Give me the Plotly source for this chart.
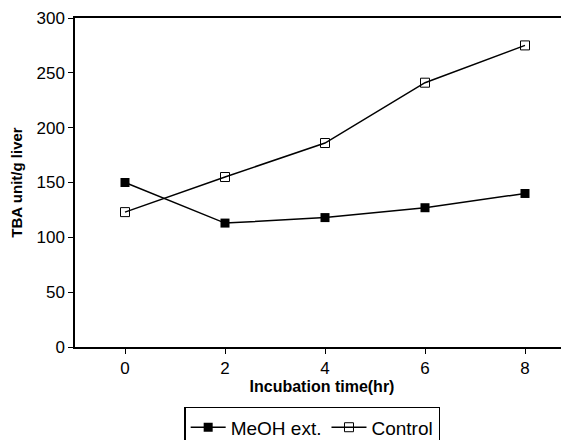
import plotly.graph_objects as go

hours = [0, 2, 4, 6, 8]
meoh = [150, 113, 118, 127, 140]
control = [123, 155, 186, 241, 275]
y_ticks = [0, 50, 100, 150, 200, 250, 300]
x_ticks = [0, 2, 4, 6, 8]

font = "Liberation Sans, Arial, sans-serif"

fig = go.Figure()
fig.add_trace(go.Scatter(
    x=hours, y=meoh, name="MeOH ext.", mode="lines+markers",
    line=dict(color="black", width=1.5),
    marker=dict(symbol="square", size=9, color="black"),
))
fig.add_trace(go.Scatter(
    x=hours, y=control, name="Control", mode="lines+markers",
    line=dict(color="black", width=1.5),
    marker=dict(symbol="square-open", size=9, color="black", line=dict(width=1)),
))

fig.update_layout(
    width=561, height=460,
    margin=dict(l=67, r=0, t=10, b=121, autoexpand=False),
    paper_bgcolor="white", plot_bgcolor="white",
    font=dict(family=font, color="black", size=16),
    showlegend=True,
    legend=dict(
        orientation="h", x=0.221, y=-0.182, xanchor="left", yanchor="top",
        bordercolor="black", borderwidth=1.5, bgcolor="white",
        font=dict(size=19, family=font), itemwidth=35,
    ),
    xaxis=dict(
        range=[-1, 8.88], tickvals=x_ticks, ticktext=[str(v) for v in x_ticks],
        showgrid=False, zeroline=False, showline=True, linecolor="black", linewidth=1.5,
        mirror=True, ticks="outside", ticklen=5, tickcolor="black",
        tickfont=dict(size=17, family=font), ticklabeloverflow="allow",
        title=dict(text="<b>Incubation time(hr)</b>", font=dict(size=16, family=font), standoff=4),
    ),
    yaxis=dict(
        range=[0, 300], tickvals=y_ticks, ticktext=[str(v) for v in y_ticks],
        showgrid=False, zeroline=False, showline=True, linecolor="black", linewidth=1.5,
        ticks="outside", ticklen=5, tickcolor="black",
        tickfont=dict(size=17, family=font), ticklabeloverflow="allow",
        title=dict(text="<b>TBA unit/g liver</b>", font=dict(size=15, family=font), standoff=11),
    ),
)

fig.write_html("out.html")
